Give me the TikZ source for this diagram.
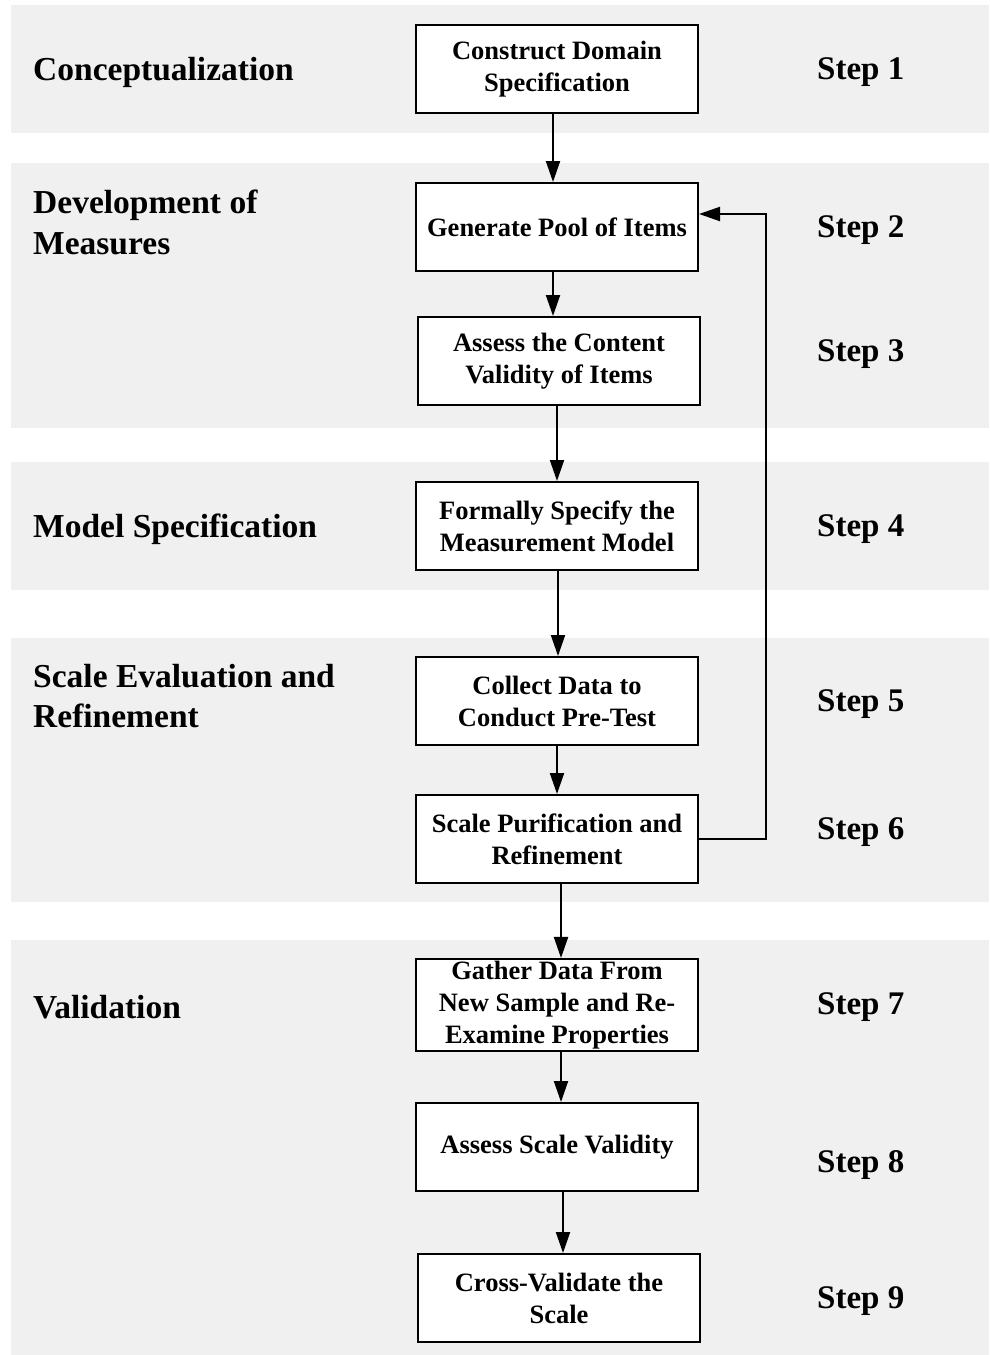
\documentclass[tikz,border=0pt]{standalone}
\usepackage{fontspec}
\setmainfont{Liberation Serif}
\usetikzlibrary{positioning, arrows.meta, calc}
\definecolor{bandgray}{HTML}{F0F0F0}

\begin{document}
\begin{tikzpicture}[x=1pt, y=-1pt, font=\bfseries,
    band/.style={fill=bandgray, draw=none},
    stepbox/.style={draw=black, fill=white, line width=2pt, align=center,
                    minimum width=282pt, minimum height=88pt, inner sep=2pt,
                    font=\fontsize{26.5}{32}\selectfont\bfseries},
    phase/.style={anchor=west, align=left, inner sep=0pt,
                  font=\fontsize{33.5}{40.5}\selectfont\bfseries},
    stepnum/.style={anchor=west, inner sep=0pt, font=\fontsize{33}{40}\selectfont\bfseries},
    flow/.style={line width=2pt, -{Triangle[length=21pt, width=14pt]}}]
    \useasboundingbox (0,0) rectangle (989,1355);
    % grey bands
    \fill[band] (11,5)   rectangle (989,133);
    \fill[band] (11,163) rectangle (989,428);
    \fill[band] (11,462) rectangle (989,590);
    \fill[band] (11,638) rectangle (989,902);
    \fill[band] (11,940) rectangle (989,1355);

    \node[phase] (p1) at (33,72)  {Conceptualization};
    \node[phase, anchor=north west] (p2) at (33,190) {Development of\\Measures};
    \node[phase] (p3) at (33,529) {Model Specification};
    \node[phase, anchor=north west] (p4) at (33,664) {Scale Evaluation and\\Refinement};
    \node[phase] (p5) at (33,1007) {Validation};

    \node[stepbox] (s1) at (557,69)   {Construct Domain\\Specification};
    \node[stepbox] (s2) at (557,227)  {Generate Pool of Items};
    \node[stepbox] (s3) at (559,361)  {Assess the Content\\Validity of Items};
    \node[stepbox] (s4) at (557,526)  {Formally Specify the\\Measurement Model};
    \node[stepbox] (s5) at (557,701)  {Collect Data to\\Conduct Pre-Test};
    \node[stepbox] (s6) at (557,839)  {Scale Purification and\\Refinement};
    \node[stepbox] (s7) at (557,1005) {Gather Data From\\New Sample and Re-\\Examine Properties};
    \node[stepbox] (s8) at (557,1147) {Assess Scale Validity};
    \node[stepbox] (s9) at (559,1298) {Cross-Validate the\\Scale};

    \node[stepnum] (n1) at (817,72)   {Step 1};
    \node[stepnum] (n2) at (817,230)  {Step 2};
    \node[stepnum] (n3) at (817,354)  {Step 3};
    \node[stepnum] (n4) at (817,529)  {Step 4};
    \node[stepnum] (n5) at (817,704)  {Step 5};
    \node[stepnum] (n6) at (817,832)  {Step 6};
    \node[stepnum] (n7) at (817,1007) {Step 7};
    \node[stepnum] (n8) at (817,1165) {Step 8};
    \node[stepnum] (n9) at (817,1301) {Step 9};

    \draw[flow] ([xshift=-4pt]s1.south) -- ([xshift=-4pt]s1.south |- s2.north);
    \draw[flow] ([xshift=-4pt]s2.south) -- ([xshift=-4pt]s2.south |- s3.north);
    \draw[flow] ([xshift=-2pt]s3.south) -- ([xshift=-2pt]s3.south |- s4.north);
    \draw[flow] ([xshift=1pt]s4.south)  -- ([xshift=1pt]s4.south |- s5.north);
    \draw[flow] (s5.south) -- (s6.north);
    \draw[flow] ([xshift=4pt]s6.south)  -- ([xshift=4pt]s6.south |- s7.north);
    \draw[flow] ([xshift=4pt]s7.south)  -- ([xshift=4pt]s7.south |- s8.north);
    \draw[flow] ([xshift=6pt]s8.south)  -- ([xshift=6pt]s8.south |- s9.north);
    % feedback loop
    \coordinate (fb) at (766,0);
    \draw[flow] (s6.east) -- (s6.east -| fb) -- ($(s2.east -| fb)+(0,-13)$) -- ($(s2.east)+(0,-13)$);
\end{tikzpicture}
\end{document}
